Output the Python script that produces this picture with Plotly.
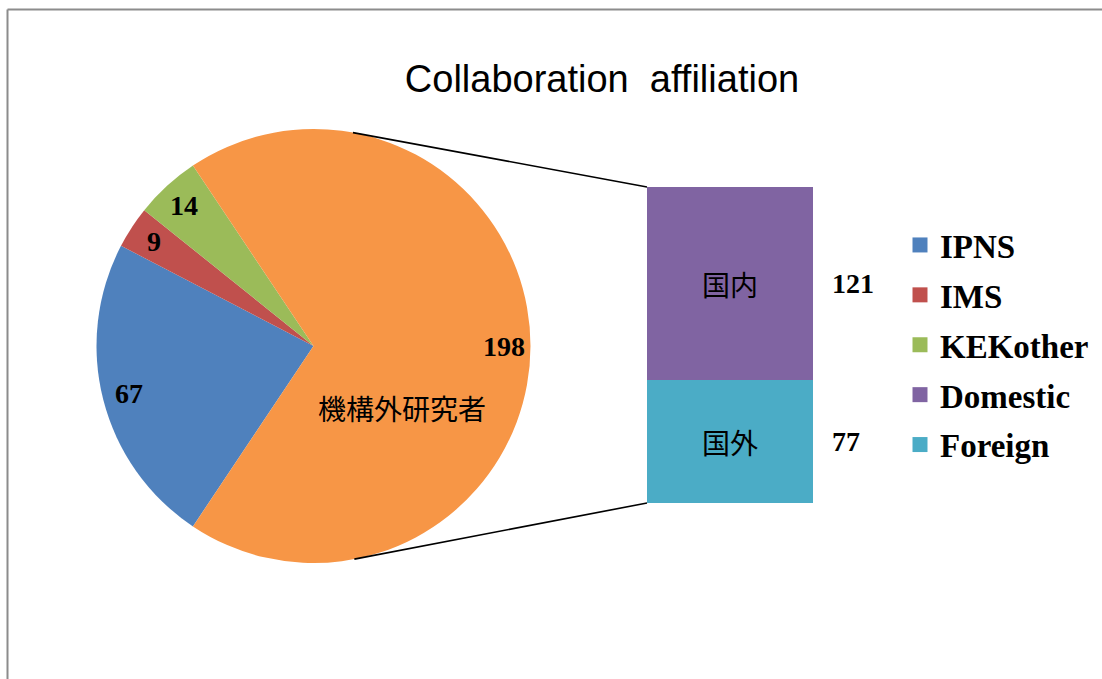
import math
import plotly.graph_objects as go

# ---- data ----
pie_labels = ["IPNS", "IMS", "KEKother", "機構外研究者"]
pie_values = [67, 9, 14, 198]
pie_colors = ["#4F81BD", "#C0504D", "#9BBB59", "#F79646"]

bar_names = ["Domestic", "Foreign"]
bar_labels = ["国内", "国外"]
bar_values = [121, 77]
bar_colors = ["#8064A2", "#4BACC6"]

legend_names = ["IPNS", "IMS", "KEKother", "Domestic", "Foreign"]
legend_colors = ["#4F81BD", "#C0504D", "#9BBB59", "#8064A2", "#4BACC6"]

title_text = "Collaboration  affiliation"

# ---- geometry (pixels) ----
W, H = 1102, 679
cx, cy, r = 313.5, 346.0, 217.0          # pie centre / radius
bar_left, bar_right = 647.0, 813.0
bar_top, bar_bottom = 187.0, 503.0

def px_to_paper(x, y):
    return x / W, 1 - y / H

total = sum(pie_values)
bar_total = sum(bar_values)
other = pie_values[-1]
half = 180.0 * other / total               # half-angle of the split slice
rotation = 90.0 + half                     # start of first slice, clockwise from 12 o'clock

fig = go.Figure()

fig.add_trace(go.Pie(
    labels=pie_labels, values=pie_values, sort=False, direction="clockwise",
    rotation=rotation, textinfo="none", hoverinfo="label+value",
    marker=dict(colors=pie_colors, line=dict(width=0)),
    domain=dict(x=[(cx - r) / W, (cx + r) / W], y=[1 - (cy + r) / H, 1 - (cy - r) / H]),
    showlegend=False,
))

# stacked bar for the split slice: bottom segment first
for name, lab, val, col in reversed(list(zip(bar_names, bar_labels, bar_values, bar_colors))):
    fig.add_trace(go.Bar(
        x=[0], y=[val], name=name, marker=dict(color=col, line=dict(width=0)),
        text=[lab], textposition="inside", insidetextanchor="middle", textangle=0,
        textfont=dict(family="Noto Sans CJK JP", size=28, color="black"),
        showlegend=False, width=1,
    ))

# legend entries
for name, col in zip(legend_names, legend_colors):
    fig.add_trace(go.Scatter(
        x=[None], y=[None], mode="markers", name=name, legendgroup=name,
        marker=dict(symbol="square", size=15, color=col),
    ))

annotations = []
num_font = dict(family="Liberation Serif", size=28, color="black", weight="bold")

# value labels on the pie slices, placed along each slice's mid-angle
ang = 360.0 - half   # math angle where the first slice starts (clockwise order)
for lab, val in zip(pie_labels, pie_values):
    span = 360.0 * val / total
    mid = math.radians(ang - span / 2)
    ang -= span
    px = cx + 0.88 * r * math.cos(mid)
    py = cy - 0.88 * r * math.sin(mid)
    xp, yp = px_to_paper(px, py)
    annotations.append(dict(x=xp, y=yp, xref="paper", yref="paper", text=str(val),
                            xanchor="center", yanchor="middle",
                            showarrow=False, font=num_font))

# category name of the split slice
xp, yp = px_to_paper(402, 408)
annotations.append(dict(x=xp, y=yp, xref="paper", yref="paper", text=pie_labels[-1],
                        xanchor="center", yanchor="middle", showarrow=False,
                        font=dict(family="Noto Sans CJK JP", size=28, color="black")))

# value labels beside the bar segments
base = 0
seg_centres = {}
for name, val in zip(reversed(bar_names), reversed(bar_values)):
    seg_centres[name] = base + val / 2
    base += val
for name, val in zip(bar_names, bar_values):
    annotations.append(dict(x=830 / W, y=seg_centres[name], xref="paper", yref="y",
                            xanchor="left", yanchor="middle", text=str(val),
                            showarrow=False, font=num_font))

# connector lines: tangents from the bar corners to the pie circle
shapes = []
for corner_y, sign in ((bar_top, 1), (bar_bottom, -1)):
    dx, dy = bar_left - cx, -(corner_y - cy)
    D = math.hypot(dx, dy)
    base_ang = math.atan2(dy, dx)
    t = base_ang + sign * math.acos(r / D)
    tx, ty = cx + r * math.cos(t), cy - r * math.sin(t)
    x0, y0 = px_to_paper(tx, ty)
    x1, y1 = px_to_paper(bar_left, corner_y)
    shapes.append(dict(type="line", xref="paper", yref="paper", x0=x0, y0=y0, x1=x1, y1=y1,
                       line=dict(color="black", width=1.6)))

# chart-area frame (top and left edges)
fx, fy = px_to_paper(7.5, 9.5)
shapes.append(dict(type="line", xref="paper", yref="paper", x0=fx, y0=fy, x1=1.0, y1=fy,
                   line=dict(color="#8C8C8C", width=2)))
shapes.append(dict(type="line", xref="paper", yref="paper", x0=fx, y0=fy, x1=fx, y1=0.0,
                   line=dict(color="#8C8C8C", width=2)))

fig.update_layout(
    width=W, height=H, margin=dict(l=0, r=0, t=0, b=0),
    paper_bgcolor="white", plot_bgcolor="white",
    barmode="stack", bargap=0,
    title=dict(text=title_text, x=602 / W, xanchor="center", y=1 - 79 / H, yanchor="middle",
               font=dict(family="Liberation Sans, Arial", size=38, color="black")),
    xaxis=dict(domain=[bar_left / W, bar_right / W], range=[-0.5, 0.5], visible=False,
               fixedrange=True),
    yaxis=dict(domain=[1 - bar_bottom / H, 1 - bar_top / H], range=[0, bar_total],
               visible=False, fixedrange=True),
    legend=dict(x=900 / W, xanchor="left", y=1 - 217 / H, yanchor="top",
                font=dict(family="Liberation Serif", size=33, color="black", weight="bold"),
                traceorder="grouped", tracegroupgap=4, bgcolor="rgba(0,0,0,0)"),
    annotations=annotations, shapes=shapes,
)

fig.write_html("out.html")
